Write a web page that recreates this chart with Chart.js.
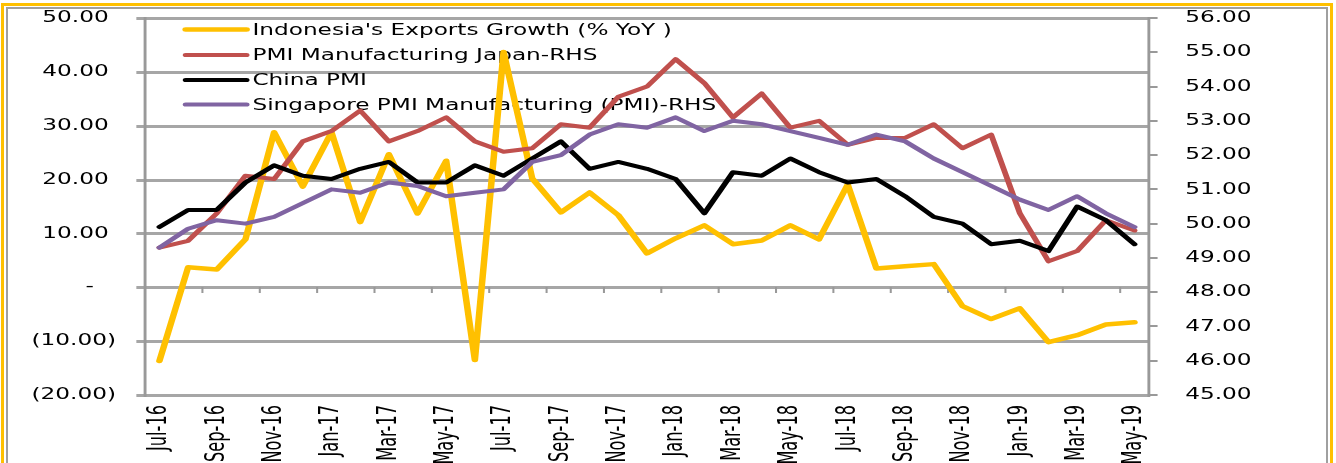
<!DOCTYPE html>
<html>
<head>
<meta charset="utf-8">
<script src="https://cdn.jsdelivr.net/npm/chart.js@4.4.1/dist/chart.umd.min.js"></script>
<style>
    html, body { margin: 0; padding: 0; background: #fff; overflow: hidden; }
    #page { position: relative; width: 1336px; height: 463px; overflow: hidden; }
    .frame-outer { position: absolute; left: 1px; top: 3px; width: 1326px; height: 520px; border: 3px solid #ffc000; }
    .frame-inner { position: absolute; left: 6px; top: 7px; width: 1318px; height: 520px; border: 2px solid #a0a0a0; }
    #chart-pmi { position: absolute; left: 0; top: 0; }
</style>
</head>
<body>
<div id="page">
    <div class="frame-outer"></div>
    <div class="frame-inner"></div>
    <canvas id="chart-pmi" width="921" height="463"></canvas>
</div>
<script>
const months = [
    "Jul-16", "Aug-16", "Sep-16", "Oct-16", "Nov-16", "Dec-16",
    "Jan-17", "Feb-17", "Mar-17", "Apr-17", "May-17", "Jun-17",
    "Jul-17", "Aug-17", "Sep-17", "Oct-17", "Nov-17", "Dec-17",
    "Jan-18", "Feb-18", "Mar-18", "Apr-18", "May-18", "Jun-18",
    "Jul-18", "Aug-18", "Sep-18", "Oct-18", "Nov-18", "Dec-18",
    "Jan-19", "Feb-19", "Mar-19", "Apr-19", "May-19"
];

// Indonesia exports growth, % YoY (left axis)
const exportsGrowth = [
    -13.7, 3.7, 3.3, 8.9, 28.8, 18.7,
    28.8, 12.1, 24.7, 13.7, 23.5, -13.5,
    43.7, 20.2, 13.9, 17.6, 13.4, 6.3,
    9.1, 11.5, 8.0, 8.7, 11.5, 8.9,
    19.1, 3.5, 3.9, 4.3, -3.5, -5.9,
    -3.9, -10.2, -8.9, -6.9, -6.5
];

// PMI readings (right axis)
const japanPmi = [
    49.3, 49.5, 50.3, 51.4, 51.3, 52.4,
    52.7, 53.3, 52.4, 52.7, 53.1, 52.4,
    52.1, 52.2, 52.9, 52.8, 53.7, 54.0,
    54.8, 54.1, 53.1, 53.8, 52.8, 53.0,
    52.3, 52.5, 52.5, 52.9, 52.2, 52.6,
    50.3, 48.9, 49.2, 50.1, 49.8
];

const chinaPmi = [
    49.9, 50.4, 50.4, 51.2, 51.7, 51.4,
    51.3, 51.6, 51.8, 51.2, 51.2, 51.7,
    51.4, 51.9, 52.4, 51.6, 51.8, 51.6,
    51.3, 50.3, 51.5, 51.4, 51.9, 51.5,
    51.2, 51.3, 50.8, 50.2, 50.0, 49.4,
    49.5, 49.2, 50.5, 50.1, 49.4
];

const singaporePmi = [
    49.3, 49.85, 50.1, 50.0, 50.2, 50.6,
    51.0, 50.9, 51.2, 51.1, 50.8, 50.9,
    51.0, 51.8, 52.0, 52.6, 52.9, 52.8,
    53.1, 52.7, 53.0, 52.9, 52.7, 52.5,
    52.3, 52.6, 52.4, 51.9, 51.5, 51.1,
    50.7, 50.4, 50.8, 50.3, 49.9
];

const seriesNames = [
    "Indonesia's Exports Growth (% YoY )",
    "PMI Manufacturing Japan-RHS",
    "China PMI",
    "Singapore PMI Manufacturing (PMI)-RHS"
];

const leftTicks = [50, 40, 30, 20, 10, 0, -10, -20];
const rightTicks = [56, 55, 54, 53, 52, 51, 50, 49, 48, 47, 46, 45];

const GRID = "#a6a6a6";
const AXIS = "#999999";
const TICK_LEN = 6;
// the source picture is stretched sideways: lay out at 921px, paint at 1336px
const OUT_W = 1336, OUT_H = 463, SX = OUT_W / 921;

// accounting style labels: 50.00 / - / (10.00)
function leftLabel(v) {
    if (v === 0) return "-   ";
    if (v < 0) return "(" + Math.abs(v).toFixed(2) + ")";
    return v.toFixed(2) + " ";
}

const stretchX = {
    id: "stretchX",
    beforeDraw(chart) {
        const c = chart.canvas;
        if (c.width !== OUT_W) {
            c.width = OUT_W;
            c.height = OUT_H;
            c.style.width = OUT_W + "px";
            c.style.height = OUT_H + "px";
        }
        chart.ctx.setTransform(SX, 0, 0, 1, 0, 0);
    }
};

// gridlines and tick marks, placed through the axes
const axisMarks = {
    id: "axisMarks",
    beforeDatasetsDraw(chart) {
        const { ctx, chartArea: area } = chart;
        const yl = chart.scales.yLeft, yr = chart.scales.yRight, x = chart.scales.x;
        ctx.save();
        ctx.fillStyle = GRID;
        leftTicks.forEach(v => {
            const py = Math.round(yl.getPixelForValue(v));
            ctx.fillRect(area.left - TICK_LEN, py - 1, area.right - area.left + TICK_LEN, 3);
        });
        ctx.fillStyle = AXIS;
        rightTicks.forEach(v => {
            const py = Math.round(yr.getPixelForValue(v));
            ctx.fillRect(area.right, py - 1, TICK_LEN, 2);
        });
        // small marks on the zero line, every two categories
        const y0 = Math.round(yl.getPixelForValue(0));
        const half = (x.getPixelForValue(1) - x.getPixelForValue(0)) / 2;
        for (let i = 2; i < months.length; i += 2) {
            const px = x.getPixelForValue(i) - half;
            ctx.fillRect(px - 0.7, y0, 1.4, 6);
        }
        // axis lines
        ctx.fillRect(area.left - 1, area.top - 1, 2, area.bottom - area.top + 3);
        ctx.fillRect(area.right - 1, area.top - 1, 2, area.bottom - area.top + 3);
        ctx.restore();
    }
};

// legend drawn inside the plot, under the lines
const innerLegend = {
    id: "innerLegend",
    beforeDatasetsDraw(chart) {
        const ctx = chart.ctx;
        const rows = [29.5, 55, 80, 104.5];
        ctx.save();
        ctx.font = "16px 'DejaVu Sans', Verdana, sans-serif";
        ctx.textBaseline = "middle";
        ctx.fillStyle = "#000";
        chart.data.datasets.forEach((ds, i) => {
            const y = rows[i];
            ctx.strokeStyle = ds.borderColor;
            ctx.lineWidth = ds.borderWidth;
            ctx.lineCap = "round";
            ctx.beginPath();
            ctx.moveTo(128, y);
            ctx.lineTo(170, y);
            ctx.stroke();
            ctx.fillText(ds.label, 174, y + 1);
        });
        ctx.restore();
    }
};

function line(label, data, color, width, axis, order) {
    return {
        label, data, yAxisID: axis, order,
        borderColor: color, backgroundColor: color,
        borderWidth: width, pointRadius: 0, tension: 0,
        borderJoinStyle: "round", borderCapStyle: "round", fill: false
    };
}

// fixed axis widths; the tick padding must not push the plot down
function fixWidth(w) {
    return s => { s.width = w; s.paddingTop = 0; s.paddingBottom = 0; };
}

const chart = new Chart(document.getElementById("chart-pmi"), {
    type: "line",
    data: {
        labels: months,
        datasets: [
            line(seriesNames[0], exportsGrowth, "#ffc000", 4.5, "yLeft", 4),
            line(seriesNames[1], japanPmi, "#c0504d", 4, "yRight", 3),
            line(seriesNames[2], chinaPmi, "#000000", 4, "yRight", 2),
            line(seriesNames[3], singaporePmi, "#8064a2", 4, "yRight", 1)
        ]
    },
    options: {
        responsive: false,
        devicePixelRatio: 1,
        animation: false,
        layout: { padding: { top: 18, left: 0, right: 0, bottom: 0 } },
        plugins: { legend: { display: false }, tooltip: { enabled: false } },
        scales: {
            x: {
                type: "category", offset: true,
                grid: { display: false, drawTicks: false },
                border: { display: false },
                ticks: {
                    autoSkip: false, minRotation: 90, maxRotation: 90, padding: 10,
                    color: "#000",
                    font: { family: "'Liberation Sans Narrow', 'DejaVu Sans Condensed', sans-serif", size: 18 },
                    callback: (v, i) => (i % 2 === 0 ? months[i] : "")
                },
                afterFit: s => { s.height = 68; }
            },
            yLeft: {
                type: "linear", position: "left", min: -20, max: 50,
                grid: { display: false, drawTicks: true, tickLength: TICK_LEN },
                border: { display: false },
                ticks: {
                    stepSize: 10, padding: 14, color: "#000",
                    font: { family: "'DejaVu Sans', Verdana, sans-serif", size: 16 },
                    callback: v => leftLabel(v)
                },
                afterFit: fixWidth(100)
            },
            yRight: {
                type: "linear", position: "right", min: 45, max: 56,
                grid: { display: false, drawTicks: true, tickLength: TICK_LEN },
                border: { display: false },
                ticks: {
                    stepSize: 1, padding: 19, color: "#000",
                    font: { family: "'DejaVu Sans', Verdana, sans-serif", size: 16 },
                    callback: v => v.toFixed(2)
                },
                afterFit: fixWidth(129)
            }
        }
    },
    plugins: [stretchX, axisMarks, innerLegend]
});
// repaint once the wide canvas is in place
chart.draw();
</script>
</body>
</html>
